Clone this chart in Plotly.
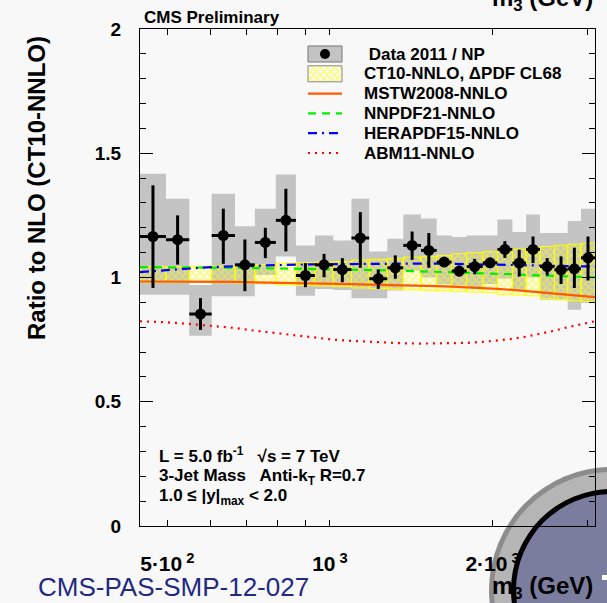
import numpy as np
import plotly.graph_objects as go

# ---------------- data ----------------
bin_edges = [445, 497, 549, 604, 667, 726, 794, 865, 938, 1014, 1096, 1182, 1277,
             1367, 1474, 1576, 1680, 1791, 1918, 2042, 2176, 2307, 2448, 2603, 2755,
             2916, 3095]

data_ratio = [1.165, 1.152, 0.853, 1.169, 1.051, 1.141, 1.230, 1.008, 1.051, 1.032,
              1.159, 0.995, 1.039, 1.129, 1.109, 1.062, 1.026, 1.044, 1.059, 1.113,
              1.058, 1.113, 1.044, 1.031, 1.035, 1.079]
stat_hi = [1.371, 1.250, 0.917, 1.277, 1.153, 1.200, 1.357, 1.058, 1.095, 1.078,
           1.263, 1.032, 1.089, 1.185, 1.179, 1.082, 1.048, 1.075, 1.079, 1.146,
           1.112, 1.165, 1.078, 1.085, 1.120, 1.165]
stat_lo = [0.958, 1.052, 0.789, 1.055, 0.945, 1.078, 1.105, 0.961, 1.001, 0.981,
           1.039, 0.954, 0.995, 1.071, 1.039, 1.042, 1.004, 1.013, 1.039, 1.079,
           1.004, 1.058, 1.008, 0.974, 0.958, 0.988]
syst_hi = [1.418, 1.317, 0.970, 1.337, 1.206, 1.277, 1.414, 1.129, 1.169, 1.149,
           1.317, 1.105, 1.156, 1.254, 1.237, 1.169, 1.163, 1.169, 1.169, 1.233,
           1.183, 1.254, 1.179, 1.179, 1.227, 1.277]
syst_lo = [0.931, 0.931, 0.766, 0.925, 0.925, 1.010, 1.085, 0.927, 0.954, 0.950,
           0.917, 0.917, 0.948, 1.028, 1.000, 0.974, 0.968, 0.961, 0.974, 0.995,
           0.948, 1.000, 0.910, 0.910, 0.870, 0.897]

ct10_hi = [1.044, 1.044, 1.045, 1.046, 1.048, 1.052, 1.058, 1.060, 1.062, 1.064,
           1.070, 1.073, 1.076, 1.082, 1.085, 1.088, 1.096, 1.100, 1.104, 1.110,
           1.114, 1.118, 1.125, 1.130, 1.134, 1.138]
ct10_lo = [0.981, 0.981, 0.980, 0.979, 0.978, 0.975, 0.970, 0.968, 0.966, 0.964,
           0.958, 0.955, 0.953, 0.950, 0.948, 0.946, 0.943, 0.941, 0.939, 0.932,
           0.929, 0.926, 0.915, 0.910, 0.906, 0.903]

# theory curves evaluated at the bin edges
mstw = [0.984, 0.984, 0.984, 0.983, 0.982, 0.980, 0.979, 0.977, 0.976, 0.974, 0.973,
        0.971, 0.970, 0.968, 0.966, 0.965, 0.963, 0.961, 0.958, 0.954, 0.950, 0.945,
        0.940, 0.934, 0.929, 0.925, 0.921]
nnpdf = [1.042, 1.042, 1.041, 1.040, 1.039, 1.038, 1.037, 1.036, 1.035, 1.034, 1.033,
         1.031, 1.029, 1.027, 1.025, 1.023, 1.021, 1.019, 1.017, 1.015, 1.013, 1.010,
         1.008, 1.006, 1.004, 1.002, 1.001]
herapdf = [1.022, 1.030, 1.037, 1.042, 1.045, 1.048, 1.050, 1.052, 1.053, 1.054, 1.055,
           1.055, 1.056, 1.056, 1.056, 1.056, 1.055, 1.054, 1.053, 1.052, 1.051, 1.050,
           1.049, 1.048, 1.046, 1.045, 1.044]
abm = [0.824, 0.820, 0.813, 0.806, 0.797, 0.786, 0.776, 0.766, 0.757, 0.750, 0.745,
       0.741, 0.737, 0.735, 0.734, 0.734, 0.735, 0.737, 0.741, 0.746, 0.753, 0.762,
       0.773, 0.786, 0.800, 0.813, 0.824]

x_tickvals = [500, 1000, 2000]
x_ticktext = ["5·10<sup> 2</sup>", "10<sup> 3</sup>", "2·10<sup> 3</sup>"]
x_minor = [600, 700, 800, 900, 3000]
y_tickvals = [0, 0.5, 1, 1.5, 2]
y_ticktext = ["0", "0.5", "1", "1.5", "2"]

legend_labels = [" Data 2011 / NP", "CT10-NNLO, ΔPDF CL68", "MSTW2008-NNLO",
                 "NNPDF21-NNLO", "HERAPDF15-NNLO", "ABM11-NNLO"]

# ---------------- helpers ----------------
W, H = 607, 603
PL, PR, PT, PB = 140, 595, 29, 526
FONT = "Liberation Sans, Arial, sans-serif"
HATCH = dict(shape="x", fgcolor="#ffff00", bgcolor="rgba(0,0,0,0)", size=5,
             solidity=0.5, fillmode="overlay")
HATCH_BG = "rgba(255,255,0,0.38)"


def px(x):
    return (x - PL) / (PR - PL)


def py(y):
    return (PB - y) / (PB - PT)


def boxes(lo_edges, hi_edges, lo_vals, hi_vals):
    xs, ys = [], []
    for a, b, lo, hi in zip(lo_edges, hi_edges, lo_vals, hi_vals):
        xs += [a, b, b, a, a, None]
        ys += [lo, lo, hi, hi, lo, None]
    return xs, ys


edges = np.array(bin_edges, dtype=float)
centers = np.sqrt(edges[:-1] * edges[1:])
ratio = np.array(data_ratio)

fig = go.Figure()

# systematic uncertainty boxes
sx, sy = boxes(edges[:-1], edges[1:], syst_lo, syst_hi)
fig.add_trace(go.Scatter(x=sx, y=sy, mode="lines", fill="toself",
                         fillcolor="#c4c4c4", line=dict(width=0),
                         hoverinfo="skip", showlegend=False))

# CT10 PDF uncertainty band (hatched)
cx, cy = boxes(edges[:-1], edges[1:], ct10_lo, ct10_hi)
fig.add_trace(go.Scatter(x=cx, y=cy, mode="lines", fill="toself",
                         fillcolor=HATCH_BG, fillpattern=HATCH,
                         line=dict(color="#ffff00", width=1),
                         hoverinfo="skip", showlegend=False))

# theory curves
fig.add_trace(go.Scatter(x=edges, y=mstw, mode="lines",
                         line=dict(color="#ff5a00", width=2.2), showlegend=False))
fig.add_trace(go.Scatter(x=edges, y=nnpdf, mode="lines",
                         line=dict(color="#00ee00", width=2.2, dash="8px,6px"),
                         showlegend=False))
fig.add_trace(go.Scatter(x=edges, y=herapdf, mode="lines",
                         line=dict(color="#0000ff", width=2.2, dash="9px,5px,2px,5px"),
                         showlegend=False))
fig.add_trace(go.Scatter(x=edges, y=abm, mode="lines",
                         line=dict(color="#ff0000", width=2.2, dash="2px,5px"),
                         showlegend=False))

# data points
fig.add_trace(go.Scatter(
    x=centers, y=ratio, mode="markers",
    marker=dict(color="black", size=11),
    error_y=dict(type="data", symmetric=False,
                 array=np.array(stat_hi) - ratio,
                 arrayminus=ratio - np.array(stat_lo),
                 color="black", thickness=3, width=0),
    error_x=dict(type="data", symmetric=False,
                 array=edges[1:] - centers, arrayminus=centers - edges[:-1],
                 color="black", thickness=3, width=0),
    showlegend=False))

# ---------------- legend (drawn on a pixel-space overlay axis) ----------------
rows = [54 + 19.8 * i for i in range(6)]
bx0, bx1 = 308, 342
fig.add_trace(go.Scatter(x=[bx0, bx1, bx1, bx0, bx0],
                         y=[rows[0] - 8, rows[0] - 8, rows[0] + 8, rows[0] + 8, rows[0] - 8],
                         mode="lines", fill="toself", fillcolor="#c4c4c4",
                         line=dict(color="#777777", width=1), xaxis="x3", yaxis="y3",
                         hoverinfo="skip", showlegend=False))
fig.add_trace(go.Scatter(x=[(bx0 + bx1) / 2], y=[rows[0]], mode="markers",
                         marker=dict(color="black", size=10), xaxis="x3", yaxis="y3",
                         hoverinfo="skip", showlegend=False))
fig.add_trace(go.Scatter(x=[bx0, bx1, bx1, bx0, bx0],
                         y=[rows[1] - 8, rows[1] - 8, rows[1] + 8, rows[1] + 8, rows[1] - 8],
                         mode="lines", fill="toself", fillcolor=HATCH_BG,
                         fillpattern=HATCH,
                         line=dict(color="#888888", width=1), xaxis="x3", yaxis="y3",
                         hoverinfo="skip", showlegend=False))
line_styles = [dict(color="#ff5a00", width=2.2),
               dict(color="#00ee00", width=2.2, dash="8px,6px"),
               dict(color="#0000ff", width=2.2, dash="9px,5px,2px,5px"),
               dict(color="#ff0000", width=2.2, dash="2px,5px")]
for r, st in zip(rows[2:], line_styles):
    fig.add_trace(go.Scatter(x=[bx0, bx1], y=[r, r], mode="lines", line=st,
                             xaxis="x3", yaxis="y3", hoverinfo="skip",
                             showlegend=False))

annotations = []
for i, (r, lab) in enumerate(zip(rows, legend_labels)):
    annotations.append(dict(x=px(362), y=py(r), xref="paper", yref="paper",
                            text=lab, showarrow=False, xanchor="left",
                            yanchor="middle",
                            font=dict(family=FONT, size=17, color="black",
                                      weight="bold")))

bold17 = dict(family=FONT, size=17, color="black", weight="bold")
annotations += [
    dict(x=px(142), y=py(17), text="CMS Preliminary", xanchor="left",
         yanchor="middle", font=bold17),
    dict(x=px(157), y=py(455), text="L = 5.0 fb<sup>-1</sup>   √s = 7 TeV",
         xanchor="left", yanchor="middle", font=bold17),
    dict(x=px(157), y=py(477), text="3-Jet Mass   Anti-k<sub>T</sub> R=0.7",
         xanchor="left", yanchor="middle", font=bold17),
    dict(x=px(157), y=py(497), text="1.0 ≤ |y|<sub>max</sub> < 2.0",
         xanchor="left", yanchor="middle", font=bold17),
    dict(x=px(36), y=py(188), text="Ratio to NLO (CT10-NNLO)", textangle=-90,
         xanchor="center", yanchor="middle",
         font=dict(family=FONT, size=24, color="black", weight="bold")),
    dict(x=px(595), y=py(17), text="m<sub>3</sub> (GeV)", xanchor="right",
         yanchor="bottom", font=dict(family=FONT, size=24, color="black",
                                     weight="bold")),
    dict(x=px(595), y=py(605), text="m<sub>3</sub> (GeV)", xanchor="right",
         yanchor="bottom", font=dict(family=FONT, size=24, color="black",
                                     weight="bold")),
    dict(x=px(36), y=py(587), text="CMS-PAS-SMP-12-027", xanchor="left",
         yanchor="middle", font=dict(family=FONT, size=26, color="#1f2a80")),
]
for a in annotations:
    a.setdefault("xref", "paper")
    a.setdefault("yref", "paper")
    a.setdefault("showarrow", False)

# ---------------- logo circle (decoration) ----------------
cxp, cyp = 612, 590


def circ(r, color):
    return dict(type="circle", xref="paper", yref="paper", layer="below",
                x0=px(cxp - r), x1=px(cxp + r), y0=py(cyp + r), y1=py(cyp - r),
                fillcolor=color, line=dict(width=0))


shapes = [circ(123, "#8c8c8c"), circ(118, "#b5b5b5"), circ(101, "#000000"),
          circ(96, "#7b7d9f"),
          dict(type="rect", xref="paper", yref="paper", layer="below",
               x0=px(602), x1=px(608), y0=py(580), y1=py(575),
               fillcolor="white", line=dict(width=0))]

ytickfont = dict(family=FONT, size=19, color="black", weight="bold")
xtickfont = dict(family=FONT, size=21, color="black", weight="bold")
xr = [np.log10(bin_edges[0]), np.log10(bin_edges[-1])]

fig.update_layout(
    width=W, height=H,
    margin=dict(l=PL, r=W - PR, t=PT, b=H - PB, pad=0),
    paper_bgcolor="#f8f8f8", plot_bgcolor="rgba(0,0,0,0)",
    showlegend=False,
    annotations=annotations, shapes=shapes,
    xaxis=dict(type="log", range=xr, showgrid=False, zeroline=False,
               showline=True, linecolor="black", linewidth=1.3, mirror="allticks",
               ticks="inside", ticklen=6, tickwidth=1, tickcolor="black",
               tickmode="array", tickvals=x_tickvals, ticktext=x_ticktext,
               tickfont=xtickfont, ticklabelstandoff=19,
               minor=dict(tickmode="array", tickvals=x_minor, ticks="inside",
                          ticklen=6, tickcolor="black", showgrid=False)),
    xaxis2=dict(type="log", range=xr, overlaying="x", anchor="y", side="bottom",
                showgrid=False, zeroline=False, showline=False,
                ticks="inside", ticklen=13, tickwidth=1, tickcolor="black",
                tickmode="array", tickvals=[1000], showticklabels=False,
                mirror="allticks"),
    yaxis=dict(range=[0, 2], showgrid=False, zeroline=False, showline=True,
               linecolor="black", linewidth=1.3, mirror="allticks",
               ticks="inside", ticklen=13, tickwidth=1, tickcolor="black",
               tickmode="array", tickvals=y_tickvals, ticktext=y_ticktext,
               tickfont=ytickfont, ticklabelstandoff=14,
               minor=dict(dtick=0.1, ticks="inside", ticklen=6,
                          tickcolor="black", showgrid=False)),
    xaxis3=dict(range=[PL, PR], overlaying="x", anchor="y3", visible=False,
                fixedrange=True),
    yaxis3=dict(range=[PB, PT], overlaying="y", anchor="x3", visible=False,
                fixedrange=True),
)

fig.write_html("out.html")
